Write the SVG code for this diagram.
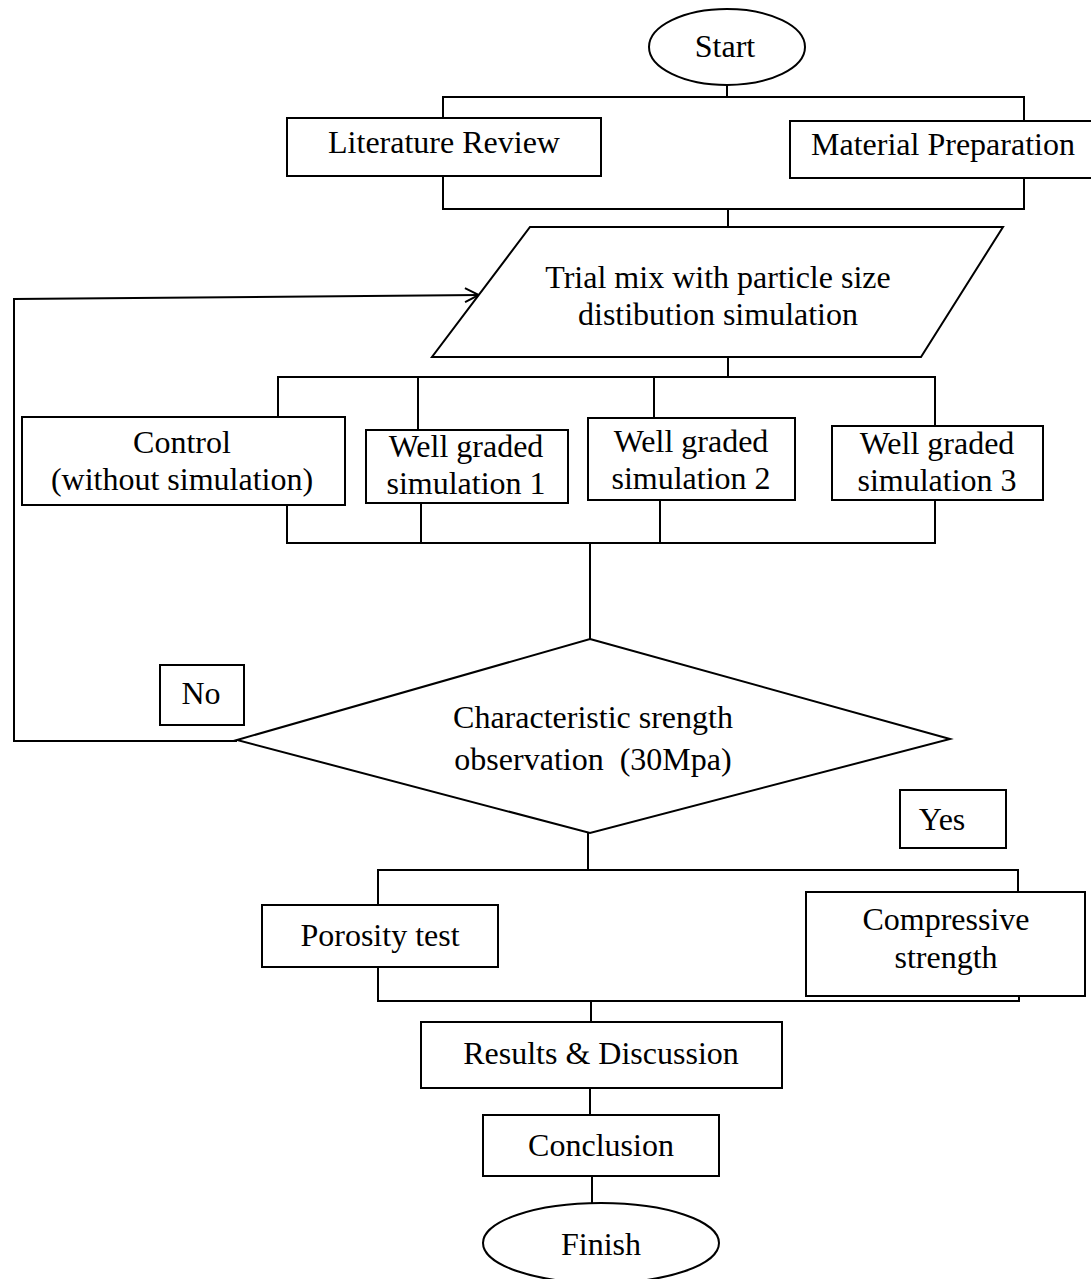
<svg xmlns="http://www.w3.org/2000/svg" width="1091" height="1279" viewBox="0 0 1091 1279">
<defs>
<style>
.s{fill:#fff;stroke:#000;stroke-width:2}
.c{fill:none;stroke:#000;stroke-width:2}
text{font-family:"Liberation Serif","Times New Roman",serif;font-size:32px;fill:#000;text-anchor:middle}
</style>
<marker id="ah" viewBox="0 0 16 16" refX="15" refY="8" markerWidth="16" markerHeight="16" markerUnits="userSpaceOnUse" orient="auto">
<path d="M1,1 L15,8 L1,15" fill="none" stroke="#000" stroke-width="2"/>
</marker>
</defs>
<rect width="1091" height="1279" fill="#fff"/>
<g id="connectors">
<path class="c" d="M727,85 V97 M443,118 V97 H1024 V121"/>
<path class="c" d="M443,176 V209 H1024 V178 M728,209 V227"/>
<path class="c" d="M728,357 V377 M278,420 V377 H935 V426 M418,377 V430 M654,377 V418"/>
<path class="c" d="M287,505 V543 H935 V500 M421,503 V543 M660,500 V543 M590,543 V639"/>
<path class="c" d="M237,741 H14 V299 L479,295" marker-end="url(#ah)"/>
<path class="c" d="M588,833 V870 M378,905 V870 H1018 V892"/>
<path class="c" d="M378,967 V1001 H1019 V996 M591,1001 V1022"/>
<path class="c" d="M590,1088 V1115 M592,1176 V1203"/>
</g>
<g id="start"><ellipse class="s" cx="727" cy="47" rx="78" ry="38"/><text x="725" y="57">Start</text></g>
<g id="literature"><rect class="s" x="287" y="118" width="314" height="58"/><text x="444" y="153">Literature Review</text></g>
<g id="material"><rect class="s" x="790" y="121" width="305" height="57"/><text x="943" y="155">Material Preparation</text></g>
<g id="trial"><polygon class="s" points="530,227 1003,227 921,357 432,357"/><text x="718" y="288">Trial mix with particle size</text><text x="718" y="325">distibution simulation</text></g>
<g id="control"><rect class="s" x="22" y="417" width="323" height="88"/><text x="182" y="453">Control</text><text x="182" y="490">(without simulation)</text></g>
<g id="well1"><rect class="s" x="366" y="430" width="202" height="73"/><text x="466" y="457">Well graded</text><text x="466" y="494">simulation 1</text></g>
<g id="well2"><rect class="s" x="588" y="418" width="207" height="82"/><text x="691" y="452">Well graded</text><text x="691" y="489">simulation 2</text></g>
<g id="well3"><rect class="s" x="832" y="426" width="211" height="74"/><text x="937" y="454">Well graded</text><text x="937" y="491">simulation 3</text></g>
<g id="decision"><polygon class="s" points="590,639 950,739 590,833 237,740"/><text x="593" y="728">Characteristic srength</text><text x="593" y="770" xml:space="preserve">observation  (30Mpa)</text></g>
<g id="no"><rect class="s" x="160" y="665" width="84" height="60"/><text x="201" y="704">No</text></g>
<g id="yes"><rect class="s" x="900" y="790" width="106" height="58"/><text x="942" y="830">Yes</text></g>
<g id="porosity"><rect class="s" x="262" y="905" width="236" height="62"/><text x="380" y="946">Porosity test</text></g>
<g id="compressive"><rect class="s" x="806" y="892" width="279" height="104"/><text x="946" y="930">Compressive</text><text x="946" y="968">strength</text></g>
<g id="results"><rect class="s" x="421" y="1022" width="361" height="66"/><text x="601" y="1064">Results &amp; Discussion</text></g>
<g id="conclusion"><rect class="s" x="483" y="1115" width="236" height="61"/><text x="601" y="1156">Conclusion</text></g>
<g id="finish"><ellipse class="s" cx="601" cy="1243" rx="118" ry="40"/><text x="601" y="1255">Finish</text></g>
</svg>
